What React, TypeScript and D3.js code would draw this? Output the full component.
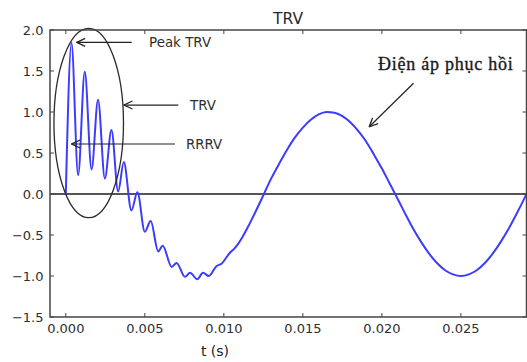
import React from "react";
import * as d3 from "d3";

// Transient recovery voltage (per unit) against time after current interruption
const timeS = [
  0, 0.00036, 0.00078, 0.0012, 0.00163, 0.00204, 0.00247, 0.00289, 0.00331, 0.00367,
  0.00415, 0.00453, 0.005, 0.00537, 0.00585, 0.00613, 0.0067, 0.00701, 0.00754, 0.00786,
  0.00832, 0.00868, 0.00905, 0.00953, 0.00985, 0.01037, 0.01069, 0.01119, 0.01153, 0.01227,
  0.013, 0.0135, 0.014, 0.0145, 0.015, 0.0155, 0.016, 0.0165, 0.017, 0.0175,
  0.018, 0.0185, 0.019, 0.0195, 0.02, 0.0205, 0.021, 0.0215, 0.022, 0.0225,
  0.023, 0.0235, 0.024, 0.0245, 0.025, 0.0255, 0.026, 0.0265, 0.027, 0.0275,
  0.028, 0.0285, 0.029, 0.02915,
];
const voltagePu = [
  0, 1.84, 0.23, 1.49, 0.3, 1.15, 0.19, 0.78, 0.03, 0.39,
  -0.2, 0.02, -0.46, -0.33, -0.7, -0.63, -0.89, -0.84, -1.01, -0.96,
  -1.04, -0.96, -1.0, -0.88, -0.85, -0.72, -0.66, -0.52, -0.4, -0.11,
  0.19, 0.37, 0.54, 0.69, 0.81, 0.905, 0.97, 1.0, 0.99, 0.95,
  0.875, 0.77, 0.64, 0.48, 0.31, 0.125, -0.06, -0.25, -0.43, -0.59,
  -0.73, -0.845, -0.93, -0.98, -1.0, -0.98, -0.93, -0.845, -0.73, -0.59,
  -0.43, -0.25, -0.06, 0.0,
];

const xTicks = [0, 0.005, 0.01, 0.015, 0.02, 0.025];
const xTickLabels = ["0.000", "0.005", "0.010", "0.015", "0.020", "0.025"];
const yTicks = [-1.5, -1.0, -0.5, 0.0, 0.5, 1.0, 1.5, 2.0];
const yTickLabels = ["\u22121.5", "\u22121.0", "\u22120.5", "0.0", "0.5", "1.0", "1.5", "2.0"];

const titleText = "TRV";
const xLabelText = "t (s)";

// Callouts: arrow tip, arrow tail and text anchor, all in data units
const calloutLabels = ["Peak TRV", "TRV", "RRRV", "Điện áp phục hồi"];
const calloutTip = [
  [0.00069, 1.85],
  [0.00368, 1.085],
  [0.00037, 0.61],
  [0.0192, 0.82],
];
const calloutTail = [
  [0.00417, 1.85],
  [0.00712, 1.085],
  [0.00691, 0.61],
  [0.022, 1.35],
];
const calloutText = [
  [0.00527, 1.85],
  [0.00786, 1.085],
  [0.0076, 0.61],
  [0.01975, 1.51],
];

// Ellipse ringing region: centre and radii in data units
const ringCentre = [0.00145, 0.866];
const ringRadius = [0.0022, 1.155];

const W = 527;
const H = 362;
const plot = { left: 50, right: 526.5, top: 30, bottom: 317 };
const sans = "'DejaVu Sans', sans-serif";
const serif = "'Liberation Serif', 'Times New Roman', serif";
const axisColor = "#454545";
const textColor = "#2e2e2e";

export default function App() {
  const x = d3.scaleLinear().domain([-0.001, 0.02915]).range([plot.left, plot.right]);
  const y = d3.scaleLinear().domain([-1.5, 2.0]).range([plot.bottom, plot.top]);

  const points: [number, number][] = timeS.map((t, i) => [t, voltagePu[i]]);
  const line = d3
    .line<[number, number]>()
    .x((d) => x(d[0]))
    .y((d) => y(d[1]))
    .curve(d3.curveMonotoneX);

  const tickLen = 4;

  return (
    <svg
      width={W}
      height={H}
      style={{ position: "absolute", left: 0, top: 0, background: "#fff" }}
    >
      <defs>
        <marker
          id="openHead"
          viewBox="0 0 10 10"
          refX="9.5"
          refY="5"
          markerWidth="10"
          markerHeight="10"
          markerUnits="userSpaceOnUse"
          orient="auto"
        >
          <path d="M1,1 L9.5,5 L1,9" fill="none" stroke="#222" strokeWidth={1.3} />
        </marker>
        <clipPath id="plotClip">
          <rect
            x={plot.left}
            y={plot.top}
            width={plot.right - plot.left}
            height={plot.bottom - plot.top}
          />
        </clipPath>
      </defs>

      {/* title */}
      <text
        x={288}
        y={23.5}
        textAnchor="middle"
        fontFamily={sans}
        fontSize={15.5}
        fill="#2a2a2a"
      >
        {titleText}
      </text>

      {/* zero reference */}
      <line
        x1={plot.left}
        x2={plot.right}
        y1={y(0)}
        y2={y(0)}
        stroke="#555"
        strokeWidth={2}
      />

      {/* voltage trace */}
      <g clipPath="url(#plotClip)">
        <path d={line(points) ?? ""} fill="none" stroke="#3c3cff" strokeWidth={2} />
      </g>

      {/* ringing region */}
      <ellipse
        cx={x(ringCentre[0])}
        cy={y(ringCentre[1])}
        rx={x(ringCentre[0] + ringRadius[0]) - x(ringCentre[0])}
        ry={y(ringCentre[1]) - y(ringCentre[1] + ringRadius[1])}
        fill="none"
        stroke="#2a2a2a"
        strokeWidth={1.3}
      />

      {/* callouts */}
      {calloutLabels.map((label, i) => {
        const isSerif = i === 3;
        return (
          <g key={label}>
            <line
              x1={x(calloutTail[i][0])}
              y1={y(calloutTail[i][1])}
              x2={x(calloutTip[i][0])}
              y2={y(calloutTip[i][1])}
              stroke="#222"
              strokeWidth={1.2}
              markerEnd="url(#openHead)"
            />
            <text
              x={x(calloutText[i][0])}
              y={y(calloutText[i][1])}
              dy={isSerif ? 0 : "0.35em"}
              fontFamily={isSerif ? serif : sans}
              fontSize={isSerif ? 18 : 13.4}
              letterSpacing={isSerif ? 0.75 : 0}
              stroke={isSerif ? "#1a1a1a" : "none"}
              strokeWidth={isSerif ? 0.35 : 0}
              fill={isSerif ? "#1a1a1a" : textColor}
            >
              {label}
            </text>
          </g>
        );
      })}

      {/* frame */}
      <rect
        x={plot.left}
        y={plot.top}
        width={plot.right - plot.left}
        height={plot.bottom - plot.top}
        fill="none"
        stroke={axisColor}
        strokeWidth={1.5}
      />

      {/* x ticks (inward, bottom and top) */}
      {xTicks.map((t, i) => (
        <g key={"x" + i}>
          <line
            x1={x(t)}
            x2={x(t)}
            y1={plot.bottom}
            y2={plot.bottom - tickLen}
            stroke={axisColor}
          />
          <line x1={x(t)} x2={x(t)} y1={plot.top} y2={plot.top + tickLen} stroke={axisColor} />
          <text
            x={x(t)}
            y={333}
            textAnchor="middle"
            fontFamily={sans}
            fontSize={13}
            fill={textColor}
          >
            {xTickLabels[i]}
          </text>
        </g>
      ))}

      {/* y ticks (inward, left and right) */}
      {yTicks.map((v, i) => (
        <g key={"y" + i}>
          <line
            x1={plot.left}
            x2={plot.left + tickLen}
            y1={y(v)}
            y2={y(v)}
            stroke={axisColor}
          />
          <line
            x1={plot.right}
            x2={plot.right - tickLen}
            y1={y(v)}
            y2={y(v)}
            stroke={axisColor}
          />
          <text
            x={43.5}
            y={y(v)}
            dy="0.36em"
            textAnchor="end"
            fontFamily={sans}
            fontSize={13}
            fill={textColor}
          >
            {yTickLabels[i]}
          </text>
        </g>
      ))}

      {/* x axis label */}
      <text
        x={215}
        y={356}
        textAnchor="middle"
        fontFamily={sans}
        fontSize={14}
        fill="#222"
      >
        {xLabelText}
      </text>
    </svg>
  );
}
